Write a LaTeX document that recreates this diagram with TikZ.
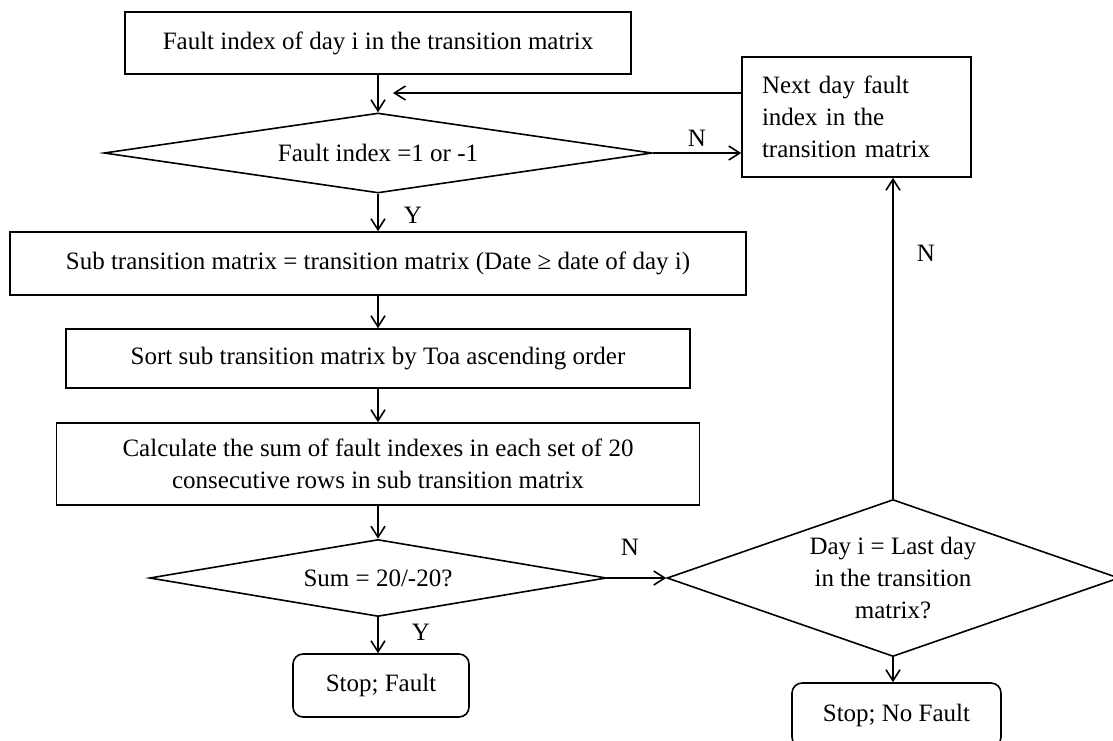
\documentclass[tikz,border=0pt]{standalone}
\usepackage{fontspec}
\setmainfont{Liberation Serif}
\usetikzlibrary{shapes.geometric,arrows.meta}
\newcommand\flowfont{\fontsize{25}{32}\selectfont}
\tikzset{
  every node/.style={font=\flowfont, inner sep=0pt},
  procbox/.style={draw, line width=1.6pt, align=center},
  stopbox/.style={draw, line width=1.6pt, rounded corners=10pt, align=center},
  decision/.style={draw, line width=1.6pt, diamond, align=center},
  flowarrow/.style={line width=1.6pt, -{Straight Barb[length=11pt,width=14pt,line width=1.6pt]}},
  yn/.style={anchor=center},
}
\begin{document}
\begin{tikzpicture}[x=1pt,y=-1pt]
\useasboundingbox (0,0) rectangle (1113,740);

% main column
\node[procbox, minimum width=506pt, minimum height=62pt] (b1) at (378,43)
  {Fault index of day i in the transition matrix};
\node[decision, aspect=6.85, minimum width=548pt, minimum height=80pt] (d1) at (378,153)
  {Fault index =1 or -1};
\node[procbox, minimum width=736pt, minimum height=63pt] (b2) at (378,263.5)
  {Sub transition matrix = transition matrix (Date ≥ date of day i)};
\node[procbox, minimum width=624pt, minimum height=59pt] (b3) at (378,358.5)
  {Sort sub transition matrix by Toa ascending order};
\node[procbox, minimum width=643pt, minimum height=82pt] (b4) at (378,464)
  {Calculate the sum of fault indexes in each set of 20\\consecutive rows in sub transition matrix};
\node[decision, aspect=5.9, minimum width=457pt, minimum height=77pt] (d2) at (378,578)
  {Sum = 20/-20?};
\node[stopbox, minimum width=176pt, minimum height=63pt] (sf) at (381,685.5)
  {Stop; Fault};

% right column
\node[procbox, minimum width=229pt, minimum height=120pt, text width=189pt,
      align=left] (next) at (856.5,117)
  {Next day fault\\index in the\\transition matrix};
\node[decision, aspect=2.9, minimum width=452pt, minimum height=157pt,
      label={[align=center]center:Day i = Last day\\in the transition\\matrix?}] (d3) at (893,578) {};
\node[stopbox, minimum width=209pt, minimum height=64pt] (nf) at (896.5,715)
  {Stop; No Fault};

% connectors
\coordinate (back) at (393,93);
\draw[flowarrow] (b1.south) -- (d1.north);
\draw[flowarrow] (next.west |- back) -- (back);
\draw[flowarrow] (d1.east) -- (next.west |- d1.east);
\draw[flowarrow] (d1.south) -- (b2.north);
\draw[flowarrow] (b2.south) -- (b3.north);
\draw[flowarrow] (b3.south) -- (b4.north);
\draw[flowarrow] (b4.south) -- (d2.north);
\draw[flowarrow] (d2.south) -- (d2.south |- sf.north);
\draw[flowarrow] (d2.east) -- (d3.west);
\draw[flowarrow] (d3.north) -- (d3.north |- next.south);
\draw[flowarrow] (d3.south) -- (d3.south |- nf.north);

% branch labels
\node[yn] (y1) at (413,215) {Y};
\node[yn] (n1) at (697,138) {N};
\node[yn] (n2) at (630,547) {N};
\node[yn] (y2) at (421,632) {Y};
\node[yn] (n3) at (926,253) {N};
\end{tikzpicture}
\end{document}
